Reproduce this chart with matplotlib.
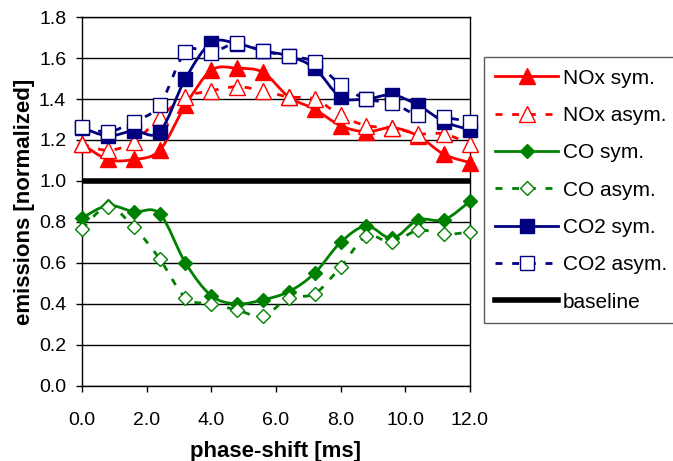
import numpy as np
import matplotlib.pyplot as plt
from matplotlib.path import Path
from matplotlib.patches import PathPatch
from matplotlib.lines import Line2D

plt.rcParams['font.family'] = ['Liberation Sans', 'DejaVu Sans']

# phase shift in ms
phase = [0.0, 0.8, 1.6, 2.4, 3.2, 4.0, 4.8, 5.6, 6.4, 7.2, 8.0, 8.8, 9.6, 10.4, 11.2, 12.0]

nox_sym = [1.18, 1.105, 1.105, 1.15, 1.37, 1.54, 1.55, 1.53, 1.41, 1.35, 1.27, 1.24, 1.26, 1.22, 1.13, 1.09]
nox_asym = [1.18, 1.15, 1.19, 1.31, 1.41, 1.44, 1.46, 1.44, 1.41, 1.40, 1.32, 1.27, 1.26, 1.23, 1.23, 1.18]
co_sym = [0.82, 0.88, 0.85, 0.84, 0.60, 0.44, 0.40, 0.42, 0.46, 0.55, 0.70, 0.78, 0.72, 0.81, 0.81, 0.90]
co_asym = [0.765, 0.875, 0.775, 0.62, 0.43, 0.40, 0.37, 0.34, 0.43, 0.45, 0.58, 0.73, 0.70, 0.76, 0.74, 0.75]
co2_sym = [1.26, 1.22, 1.245, 1.24, 1.50, 1.675, 1.67, 1.635, 1.61, 1.55, 1.41, 1.40, 1.42, 1.37, 1.29, 1.25]
co2_asym = [1.265, 1.24, 1.29, 1.37, 1.63, 1.627, 1.672, 1.634, 1.61, 1.58, 1.47, 1.40, 1.38, 1.32, 1.31, 1.29]
baseline = [1.0] * len(phase)

labels = ['NOx sym.', 'NOx asym.', 'CO sym.', 'CO asym.', 'CO2 sym.', 'CO2 asym.', 'baseline']

RED = '#ff0000'
GREEN = '#008000'
NAVY = '#000080'


def smooth_path(x, y):
    # excel-style smoothed line: catmull-rom segments as cubic beziers
    pts = np.column_stack([x, y])
    n = len(pts)
    verts = [pts[0]]
    codes = [Path.MOVETO]
    for i in range(n - 1):
        p0 = pts[max(i - 1, 0)]
        p1 = pts[i]
        p2 = pts[i + 1]
        p3 = pts[min(i + 2, n - 1)]
        c1 = p1 + (p2 - p0) / 6.0
        c2 = p2 - (p3 - p1) / 6.0
        verts += [c1, c2, p2]
        codes += [Path.CURVE4] * 3
    return Path(verts, codes)


fig = plt.figure(figsize=(6.73, 4.61), dpi=100)
ax = fig.add_axes([0.122, 0.163, 0.576, 0.8])

dash = (0, (2.5, 3.5))
series = [
    (nox_sym, RED, '-', '^', RED, 11),
    (nox_asym, RED, dash, '^', 'white', 11),
    (co_sym, GREEN, '-', 'D', GREEN, 7.5),
    (co_asym, GREEN, dash, 'D', 'white', 7.5),
    (co2_sym, NAVY, '-', 's', NAVY, 9.5),
    (co2_asym, NAVY, dash, 's', 'white', 9.5),
]

handles = []
z = 3
for vals, col, ls, mk, face, ms in series:
    patch = PathPatch(smooth_path(phase, vals), facecolor='none', edgecolor=col,
                      lw=2.0, linestyle=ls, zorder=z)
    ax.add_patch(patch)
    ax.plot(phase, vals, linestyle='none', marker=mk, markersize=ms,
            markerfacecolor=face, markeredgecolor=col, markeredgewidth=1.0,
            zorder=z + 0.5, clip_on=False)
    handles.append(Line2D([], [], color=col, lw=2.0, linestyle=ls, marker=mk,
                          markersize=ms, markerfacecolor=face, markeredgecolor=col))
    z += 1

ax.plot(phase, baseline, color='black', lw=4, zorder=z, solid_capstyle='butt')
handles.append(Line2D([], [], color='black', lw=4))

ax.set_xlim(0, 12)
ax.set_ylim(0, 1.8)
ax.set_xticks(np.arange(0, 12.1, 2))
ax.set_yticks(np.arange(0, 1.81, 0.2))
ax.set_xticklabels([f'{v:.1f}' for v in np.arange(0, 12.1, 2)])
ax.set_yticklabels([f'{v:.1f}' for v in np.arange(0, 1.81, 0.2)])
ax.yaxis.grid(True, color='black', lw=1)
ax.set_axisbelow(True)
ax.tick_params(direction='out', length=4.5, width=1, labelsize=14, colors='black')
ax.tick_params(axis='x', pad=14)
ax.tick_params(axis='y', pad=7)
for s in ax.spines.values():
    s.set_color('black')
    s.set_linewidth(1)

ax.set_xlabel('phase-shift [ms]', fontsize=16, fontweight='bold', labelpad=9)
ax.set_ylabel('emissions [normalized]', fontsize=16, fontweight='bold', labelpad=3)

leg = fig.legend(handles, labels, loc='upper left', bbox_to_anchor=(0.719, 0.876),
                 fontsize=15, handlelength=3.0, handletextpad=0.25,
                 labelspacing=0.88, borderpad=0.55, frameon=True, fancybox=False,
                 edgecolor='#333333', borderaxespad=0)
leg.get_frame().set_linewidth(1)

fig.savefig('out.png', dpi=100)
